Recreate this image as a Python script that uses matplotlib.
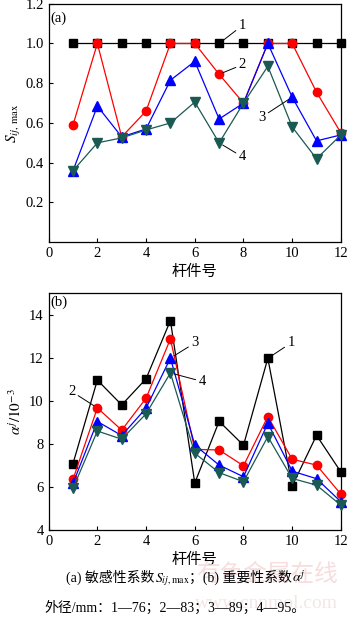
import numpy as np
import matplotlib
matplotlib.use('Agg')
import matplotlib.pyplot as plt

plt.rcParams['font.family'] = ['Liberation Serif', 'Noto Sans CJK SC', 'DejaVu Sans']
plt.rcParams['mathtext.fontset'] = 'stix'

members = np.arange(1, 13)

# (a) sensitivity coefficient S_ij,max
s_76 = [1.0] * 12
s_83 = [0.59, 1.0, 0.53, 0.66, 1.0, 1.0, 0.845, 0.70, 1.0, 1.0, 0.755, 0.55]
s_89 = [0.36, 0.685, 0.53, 0.57, 0.815, 0.91, 0.62, 0.70, 1.0, 0.73, 0.51, 0.54]
s_95 = [0.36, 0.50, 0.525, 0.565, 0.60, 0.705, 0.50, 0.70, 0.885, 0.58, 0.42, 0.54]

# (b) importance coefficient alpha^j (1e-3)
a_76 = [7.09, 10.96, 9.81, 11.02, 13.72, 6.19, 9.05, 7.94, 11.97, 6.05, 8.40, 6.70]
a_83 = [6.36, 9.67, 8.64, 10.12, 12.87, 7.75, 7.72, 6.99, 9.27, 7.29, 7.02, 5.67]
a_89 = [6.17, 9.04, 8.39, 9.66, 11.98, 7.95, 7.02, 6.48, 8.96, 6.74, 6.39, 5.32]
a_95 = [5.94, 8.60, 8.22, 9.40, 11.29, 7.57, 6.67, 6.25, 8.34, 6.40, 6.09, 5.16]

caption_a = ['(a) 敏感性系数', r'$S_{ij,\mathrm{max}}$', '；(b) 重要性系数', r'$\alpha^{j}$']
caption_b = '外径/mm：1—76；2—83；3—89；4—95。'

teal = '#1a5a52'
styles = [
    dict(color='black', marker='s', ms=5.3),
    dict(color='#ff0000', marker='o', ms=6),
    dict(color='#0000ff', marker='^', ms=6.5),
    dict(color=teal, marker='v', ms=6.5),
]

fig = plt.figure(figsize=(3.5, 6.18), dpi=100)
ax1 = fig.add_axes([0.139, 0.608, 0.835, 0.386])
ax2 = fig.add_axes([0.139, 0.142, 0.835, 0.384])


def draw(ax, series):
    for ys, st in zip(series, styles):
        ax.plot(members, ys, color=st['color'], marker=st['marker'], ms=st['ms'],
                lw=0.9, mec=st['color'], clip_on=False, zorder=3)
    ax.set_xlim(0, 12)
    ax.set_xticks([0, 2, 4, 6, 8, 10, 12])
    ax.tick_params(direction='in', labelsize=10.5, length=3, width=0.8)
    for sp in ax.spines.values():
        sp.set_linewidth(0.9)
    ax.set_xlabel('杆件号', family=['Noto Sans CJK SC'], fontsize=11, labelpad=2)


draw(ax1, [s_76, s_83, s_89, s_95])
ax1.set_ylim(0, 1.2)
ax1.set_yticks([0.2, 0.4, 0.6, 0.8, 1.0, 1.2])
ax1.set_yticklabels(['0.2', '0.4', '0.6', '0.8', '1.0', '1.2'])
ax1.set_ylabel(r'$S_{ij,\,\mathrm{max}}$', fontsize=11, labelpad=2)
ax1.text(0.06, 1.16, '(a)', fontsize=10.5, va='top')

draw(ax2, [a_76, a_83, a_89, a_95])
ax2.set_ylim(4, 15)
ax2.set_yticks([4, 6, 8, 10, 12, 14])
ax2.set_ylabel(r'$\alpha^{j}/10^{-3}$', fontsize=11, labelpad=4)
ax2.text(0.06, 14.9, '(b)', fontsize=10.5, va='top')

arrow = dict(arrowstyle='-', color='black', lw=0.7, shrinkA=0, shrinkB=3)
ax1.annotate('1', xy=(7, s_76[6]), xytext=(7.8, 1.09), fontsize=10.5, va='center', arrowprops=arrow)
ax1.annotate('2', xy=(7, s_83[6]), xytext=(7.8, 0.893), fontsize=10.5, va='center', arrowprops=arrow)
ax1.annotate('3', xy=(10, s_89[9]), xytext=(8.6, 0.63), fontsize=10.5, va='center', arrowprops=arrow)
ax1.annotate('4', xy=(7, s_95[6]), xytext=(7.8, 0.43), fontsize=10.5, va='center', arrowprops=arrow)

ax2.annotate('1', xy=(9, a_76[8]), xytext=(9.8, 12.68), fontsize=10.5, va='center', arrowprops=arrow)
ax2.annotate('2', xy=(2, a_83[1]), xytext=(0.8, 10.43), fontsize=10.5, va='center', arrowprops=arrow)
ax2.annotate('3', xy=(5, a_89[4]), xytext=(5.85, 12.68), fontsize=10.5, va='center', arrowprops=arrow)
ax2.annotate('4', xy=(5, a_95[4]), xytext=(6.15, 10.9), fontsize=10.5, va='center', arrowprops=arrow)

# faint watermark behind the caption
fig.text(0.965, 1 - 574 / 618, '有色金属在线', family=['Noto Sans CJK SC'], fontsize=17,
         color='#f7dede', ha='right', va='center', zorder=0)
fig.text(0.965, 1 - 604 / 618, 'www.cnnmol.com', fontsize=14, color='#f5e6e6',
         ha='right', va='center', zorder=0)

# caption line 1: plain and math pieces laid out one after another
renderer = fig.canvas.get_renderer()
pieces = []
for s in caption_a:
    t = fig.text(0, 1 - 582 / 618, s, fontsize=10, ha='left', va='baseline')
    pieces.append(t)
widths = [p.get_window_extent(renderer).width for p in pieces]
x = (186 - sum(widths) / 2)
for p, w in zip(pieces, widths):
    p.set_x(x / 350)
    x += w

fig.text(0.50, 1 - 608 / 618, caption_b, fontsize=10, ha='center', va='center')

fig.savefig('out.png', dpi=100)
